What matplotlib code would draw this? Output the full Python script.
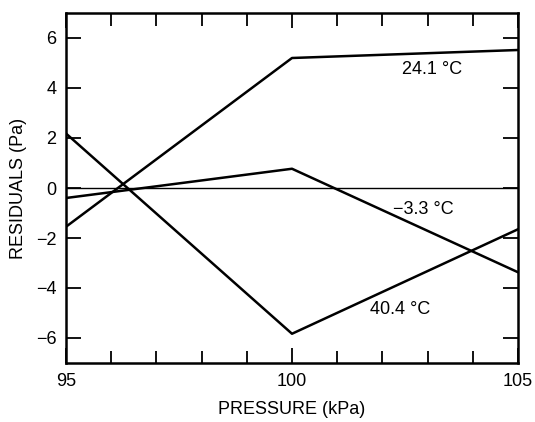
import matplotlib
matplotlib.use("Agg")
import matplotlib.pyplot as plt
from matplotlib.ticker import MultipleLocator

# residuals at three pressures for each temperature
pressure = [95, 100, 105]
res_24 = [-1.55, 5.2, 5.52]
res_m3 = [-0.4, 0.77, -3.37]
res_40 = [2.18, -5.83, -1.65]

labels = ["24.1 °C", "\u22123.3 °C", "40.4 °C"]
label_pos = [(103.1, 4.75), (102.9, -0.85), (102.4, -4.85)]

plt.rcParams["font.family"] = ["Liberation Sans", "DejaVu Sans"]

fig = plt.figure(figsize=(5.35, 4.22), dpi=100)
ax = fig.add_axes([66 / 535, 1 - 363 / 422, 452 / 535, 350 / 422])

ax.axhline(0, color="black", linewidth=1.0)
for res in (res_24, res_m3, res_40):
    ax.plot(pressure, res, color="black", linewidth=1.8)

for text, (x, y) in zip(labels, label_pos):
    ax.text(x, y, text, fontsize=13, ha="center", va="center")

ax.set_xlim(95, 105)
ax.set_ylim(-7, 7)
ax.set_xticks([95, 100, 105])
ax.xaxis.set_minor_locator(MultipleLocator(1))
ax.set_yticks([-6, -4, -2, 0, 2, 4, 6])
ax.tick_params(axis="both", which="both", direction="in", top=True, right=True,
               labelsize=13, width=1.3)
ax.tick_params(axis="both", which="major", length=11, pad=7)
ax.tick_params(axis="x", which="minor", length=9)
for spine in ax.spines.values():
    spine.set_linewidth(1.8)

ax.set_xlabel("PRESSURE (kPa)", fontsize=13, labelpad=8)
ax.set_ylabel("RESIDUALS (Pa)", fontsize=13, labelpad=6)

fig.savefig("out.png", dpi=100)
